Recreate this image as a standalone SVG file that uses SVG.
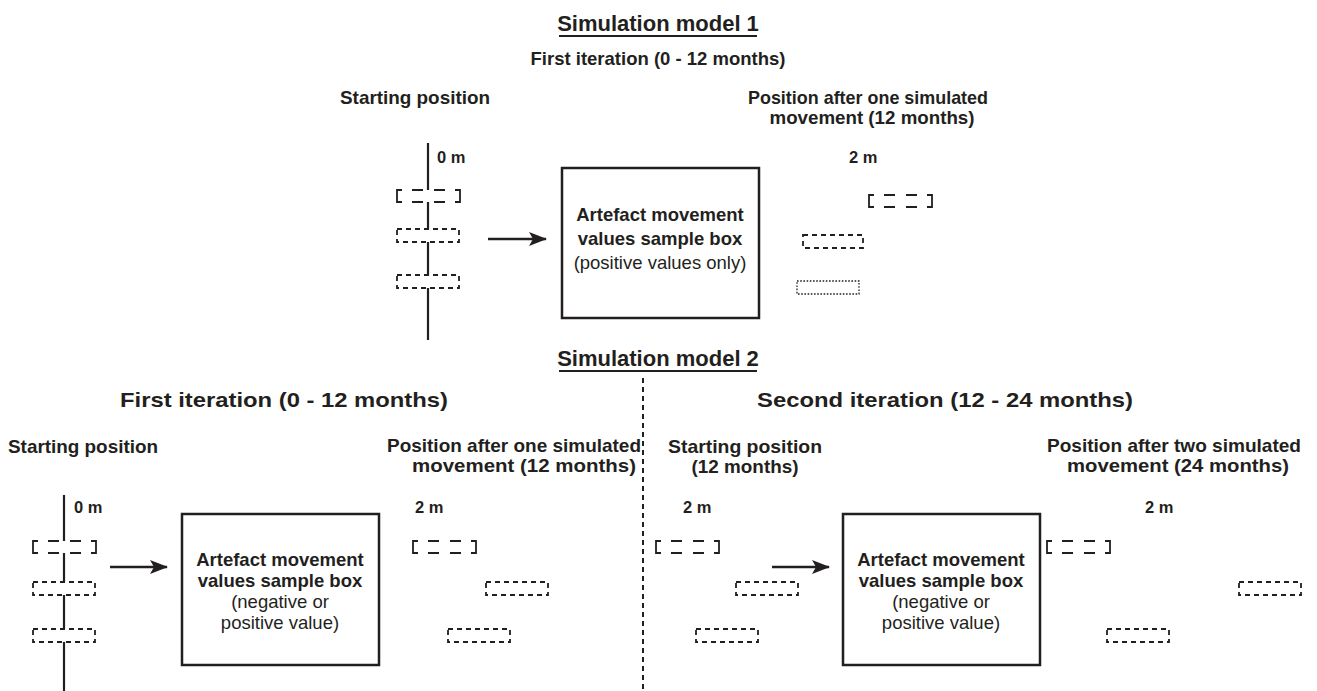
<svg xmlns="http://www.w3.org/2000/svg" width="1317" height="691" viewBox="0 0 1317 691">
<style>
text{font-family:"Liberation Sans",Arial,sans-serif;fill:#231f20}
.b{font-weight:bold}
.t{font-size:22px;font-weight:bold}
.h1{font-size:18.5px;font-weight:bold}
.h2{font-size:21px;font-weight:bold}
.l2{font-size:19px;font-weight:bold}
.m{font-size:16.5px;font-weight:bold}
.bx{font-size:18.5px}
.ax{stroke:#231f20;stroke-width:2.2;fill:none}
.box{stroke:#231f20;stroke-width:2.5;fill:#fff}
.ds{stroke:#231f20;stroke-width:1.8;fill:#fff;stroke-dasharray:5 4}
.dt{stroke:#231f20;stroke-width:1.3;fill:#fff;stroke-dasharray:1.6 1.6}
.arr{stroke:#231f20;stroke-width:2.4;fill:none;marker-end:url(#ah)}
.sep{stroke:#231f20;stroke-width:2;stroke-dasharray:5 4;fill:none}
.ul{stroke:#231f20;stroke-width:2}
</style>
<defs>
<marker id="ah" markerWidth="18" markerHeight="14" refX="17" refY="7" orient="auto" markerUnits="userSpaceOnUse">
<path d="M0,0 L18,7 L0,14 L4,7 Z" fill="#231f20"/>
</marker>
<g id="brk">
<rect x="0" y="0" width="63" height="12" fill="#fff"/>
<path d="M5,0 H0 V12 H5 M58,0 H63 V12 H58 M15,0 H26 M37,0 H48 M15,12 H26 M37,12 H48" stroke="#231f20" stroke-width="1.8" fill="none"/>
</g>
</defs>

<g id="titles">
<text class="t" x="658" y="31" text-anchor="middle">Simulation model 1</text>
<line class="ul" x1="559" y1="36" x2="757" y2="36"/>
<text class="t" x="658" y="366" text-anchor="middle">Simulation model 2</text>
<line class="ul" x1="559" y1="371" x2="757" y2="371"/>
</g>

<g id="model1">
<text class="h1" x="658" y="65" text-anchor="middle">First iteration (0 - 12 months)</text>
<text class="l2" x="415" y="104" text-anchor="middle" font-size="18" textLength="150" lengthAdjust="spacingAndGlyphs">Starting position</text>
<text class="l2" x="868" y="104" text-anchor="middle" font-size="18" textLength="240" lengthAdjust="spacingAndGlyphs">Position after one simulated</text>
<text class="l2" x="872" y="124" text-anchor="middle" font-size="18" textLength="205" lengthAdjust="spacingAndGlyphs">movement (12 months)</text>
<text class="m" x="437" y="163">0 m</text>
<text class="m" x="849" y="163">2 m</text>
</g>

<g id="m1-start">
<line class="ax" x1="428" y1="143" x2="428" y2="340"/>
<use href="#brk" x="397" y="190"/>
<rect class="ds" x="397" y="229" width="62" height="13"/>
<rect class="ds" x="397" y="275" width="62" height="13"/>
</g>

<g id="m1-box">
<rect class="box" x="562" y="168" width="197" height="150"/>
<text class="bx b" x="660" y="221" text-anchor="middle">Artefact movement</text>
<text class="bx b" x="660" y="245" text-anchor="middle">values sample box</text>
<text class="bx" x="660" y="269" text-anchor="middle">(positive values only)</text>
</g>

<g id="m1-end">
<use href="#brk" x="869" y="195"/>
<rect class="ds" x="803" y="235" width="60" height="13"/>
<rect class="dt" x="797" y="281" width="62" height="13"/>
</g>

<g id="model2-left">
<text class="h2" x="284" y="407" text-anchor="middle" textLength="328" lengthAdjust="spacingAndGlyphs">First iteration (0 - 12 months)</text>
<text class="l2" x="83" y="453" text-anchor="middle" textLength="150" lengthAdjust="spacingAndGlyphs">Starting position</text>
<text class="l2" x="514" y="452" text-anchor="middle" textLength="254" lengthAdjust="spacingAndGlyphs">Position after one simulated</text>
<text class="l2" x="524" y="472" text-anchor="middle" textLength="224" lengthAdjust="spacingAndGlyphs">movement (12 months)</text>
<text class="m" x="74" y="513">0 m</text>
<text class="m" x="415" y="513">2 m</text>
</g>

<g id="m2-start">
<line class="ax" x1="64" y1="495" x2="64" y2="691"/>
<use href="#brk" x="33" y="541"/>
<rect class="ds" x="33" y="582" width="62" height="13"/>
<rect class="ds" x="33" y="629" width="62" height="13"/>
</g>

<g id="m2-box1">
<rect class="box" x="182" y="514" width="197" height="151"/>
<text class="bx b" x="280" y="566" text-anchor="middle">Artefact movement</text>
<text class="bx b" x="280" y="587" text-anchor="middle">values sample box</text>
<text class="bx" x="280" y="608" text-anchor="middle">(negative or</text>
<text class="bx" x="280" y="629" text-anchor="middle">positive value)</text>
</g>

<g id="m2-mid">
<use href="#brk" x="413" y="541"/>
<rect class="ds" x="486" y="582" width="62" height="13"/>
<rect class="ds" x="448" y="629" width="62" height="13"/>
</g>

<g id="model2-right">
<text class="h2" x="945" y="407" text-anchor="middle" textLength="376" lengthAdjust="spacingAndGlyphs">Second iteration (12 - 24 months)</text>
<text class="l2" x="745" y="453" text-anchor="middle" textLength="154" lengthAdjust="spacingAndGlyphs">Starting position</text>
<text class="l2" x="745" y="473" text-anchor="middle" textLength="107" lengthAdjust="spacingAndGlyphs">(12 months)</text>
<text class="l2" x="1174" y="452" text-anchor="middle" textLength="254" lengthAdjust="spacingAndGlyphs">Position after two simulated</text>
<text class="l2" x="1178" y="472" text-anchor="middle" textLength="222" lengthAdjust="spacingAndGlyphs">movement (24 months)</text>
<text class="m" x="683" y="513">2 m</text>
<text class="m" x="1145" y="513">2 m</text>
</g>

<g id="m2-start2">
<use href="#brk" x="656" y="541"/>
<rect class="ds" x="736" y="582" width="62" height="13"/>
<rect class="ds" x="696" y="629" width="62" height="13"/>
</g>

<g id="m2-box2">
<rect class="box" x="843" y="514" width="197" height="151"/>
<text class="bx b" x="941" y="566" text-anchor="middle">Artefact movement</text>
<text class="bx b" x="941" y="587" text-anchor="middle">values sample box</text>
<text class="bx" x="941" y="608" text-anchor="middle">(negative or</text>
<text class="bx" x="941" y="629" text-anchor="middle">positive value)</text>
</g>

<g id="m2-end">
<use href="#brk" x="1047" y="541"/>
<rect class="ds" x="1239" y="582" width="62" height="13"/>
<rect class="ds" x="1107" y="629" width="62" height="13"/>
</g>

<g id="connectors">
<line class="arr" x1="488" y1="239" x2="546" y2="239"/>
<line class="arr" x1="110" y1="567" x2="167" y2="567"/>
<line class="arr" x1="772" y1="567" x2="829" y2="567"/>
<line class="sep" x1="643" y1="378" x2="643" y2="691"/>
</g>
</svg>
